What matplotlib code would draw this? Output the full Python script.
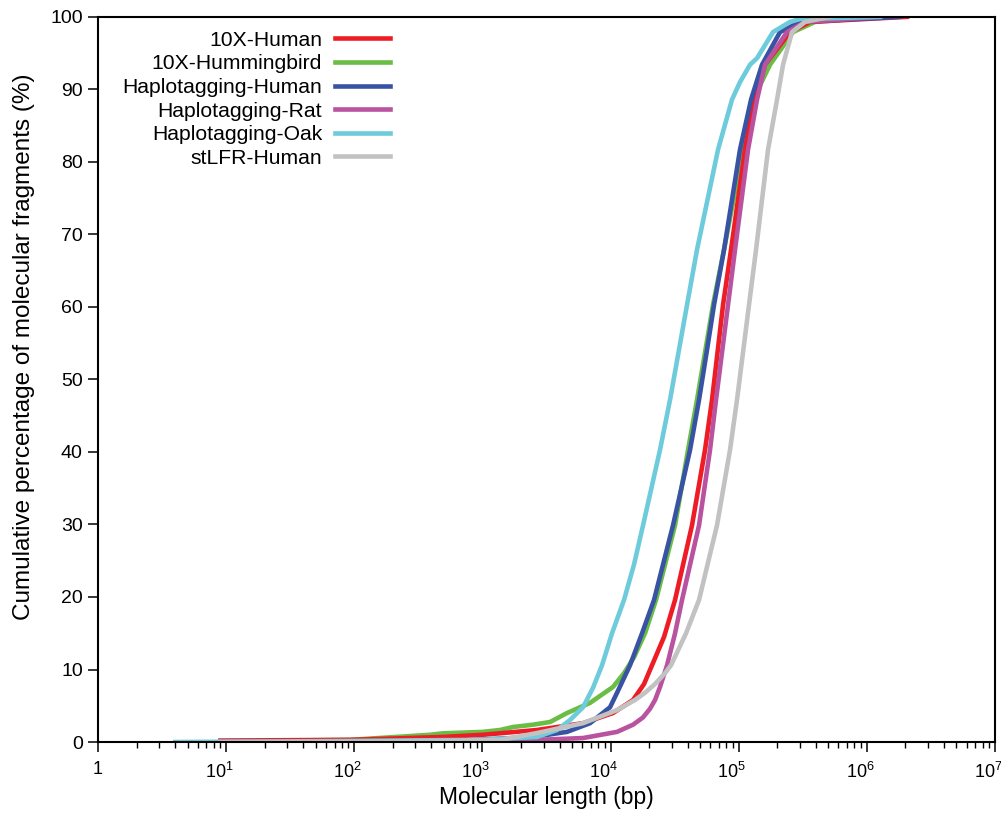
import math
import matplotlib
matplotlib.use("Agg")
import matplotlib.pyplot as plt
from matplotlib.ticker import FixedLocator, FuncFormatter, NullFormatter
from matplotlib.transforms import ScaledTranslation

plt.rcParams["font.family"] = ["Liberation Sans", "DejaVu Sans"]
plt.rcParams["mathtext.fontset"] = "custom"
plt.rcParams["mathtext.rm"] = "Liberation Sans"
plt.rcParams["mathtext.it"] = "Liberation Sans:italic"

# Values (molecule length in bp, cumulative %)
human10x_x = [9, 93, 492, 1010, 2667, 6095, 10450, 14970, 18240, 21060, 26130, 31840,
              43200, 54580, 61900, 75430, 87100, 111900, 131700, 160400, 251400,
              360100, 2058000]
human10x_y = [0.2, 0.3, 0.7, 1.0, 1.66, 2.6, 4.0, 5.8, 8.0, 10.6, 14.5, 19.6,
              29.9, 40.3, 47.2, 60.3, 67.9, 81.7, 88.6, 93.4, 97.9,
              99.3, 100]

hummingbird_x = [9, 93, 390, 492, 1010, 1371, 1732, 2500, 3369, 4571, 6911, 10450,
                 12730, 15240, 18570, 22630, 31840, 40220, 47270, 63020, 76800,
                 108000, 129300, 175500, 265300, 393900, 1266800]
hummingbird_y = [0.1, 0.3, 1.0, 1.2, 1.4, 1.66, 2.07, 2.4, 2.76, 4.0, 5.4, 7.6,
                 9.5, 11.7, 15.0, 19.6, 29.9, 40.3, 47.2, 60.3, 67.9,
                 81.7, 88.6, 93.4, 97.9, 99.3, 100]

haplo_human_x = [9, 558, 2481, 4571, 6911, 9900, 11230, 14180, 17600, 21830, 30710,
                 41690, 49000, 56580, 64170, 76800, 102300, 124800, 152000, 210100,
                 300800, 1814000]
haplo_human_y = [0.05, 0.1, 0.7, 1.4, 2.6, 4.8, 6.8, 10.6, 15.0, 19.6, 29.9,
                 40.3, 47.2, 54.1, 60.3, 67.9, 81.7, 88.6, 93.4, 97.9, 99.3, 100]

haplo_rat_x = [9, 1371, 6095, 11230, 15000, 17920, 20310, 22230, 24310, 27590, 31840,
               36100, 49000, 59700, 66500, 82510, 93560, 118200, 139000, 160400,
               238200, 329300, 1266800]
haplo_rat_y = [0.0, 0.1, 0.55, 1.4, 2.4, 3.4, 4.6, 5.8, 7.6, 10.6, 15.0,
               19.6, 29.9, 40.3, 47.2, 60.3, 67.9, 81.7, 88.6, 93.4,
               97.9, 99.3, 100]

haplo_oak_x = [4, 38, 958, 2667, 3820, 4800, 6095, 7300, 8575, 10260, 12730, 15240,
               17920, 24310, 29100, 39500, 47270, 68960, 88660, 102300, 122500,
               139000, 185200, 251400, 300800, 1266800]
haplo_oak_y = [0.0, 0.1, 0.3, 0.7, 1.66, 3.0, 4.8, 7.5, 10.6, 15.0, 19.6, 24.5,
               29.9, 40.3, 47.2, 60.3, 67.9, 81.7, 88.6, 91.0, 93.4,
               94.3, 97.9, 99.3, 99.7, 100]

stlfr_x = [9, 227, 1371, 2667, 6095, 11230, 15510, 18570, 22230, 26600, 29630, 38800,
           49000, 67700, 85530, 96980, 120300, 136500, 169300, 199100, 221700,
           260600, 329300, 515800]
stlfr_y = [0.0, 0.1, 0.28, 1.24, 2.6, 4.4, 5.8, 6.8, 8.0, 9.5, 10.6, 15.0,
           19.6, 29.9, 40.3, 47.2, 60.3, 67.9, 81.7, 88.6, 93.4,
           97.9, 99.3, 100]

labels = ["10X-Human", "10X-Hummingbird", "Haplotagging-Human",
          "Haplotagging-Rat", "Haplotagging-Oak", "stLFR-Human"]
colors = ["#ee1c25", "#6abd45", "#3953a4", "#b9529f", "#6dcbdc", "#c2c2c2"]
series = [(human10x_x, human10x_y), (hummingbird_x, hummingbird_y),
          (haplo_human_x, haplo_human_y), (haplo_rat_x, haplo_rat_y),
          (haplo_oak_x, haplo_oak_y), (stlfr_x, stlfr_y)]

decades = list(range(0, 8))
y_ticks = list(range(0, 101, 10))

fig = plt.figure(figsize=(10.01, 8.13), dpi=100)
ax = fig.add_axes([0.098, 0.0873, 0.896, 0.892])

# drawing order, back to front
lines = {}
for i in [1, 0, 2, 3, 4, 5]:
    xs, ys = series[i]
    lines[i], = ax.plot(xs, ys, color=colors[i], linewidth=3.3,
                        solid_joinstyle="round", label=labels[i])

ax.set_xscale("log")
ax.set_xlim(1, 1e7)
ax.set_ylim(0, 100)

ax.xaxis.set_major_locator(FixedLocator([10.0 ** d for d in decades]))
ax.xaxis.set_minor_locator(FixedLocator([m * 10.0 ** d for d in decades[:-1]
                                         for m in range(2, 10)]))
ax.xaxis.set_minor_formatter(NullFormatter())
ax.xaxis.set_major_formatter(FuncFormatter(
    lambda v, p: "1" if abs(v - 1) < 1e-9 else r"$\mathregular{10^{%d}}$" % round(math.log10(v))))
ax.yaxis.set_major_locator(FixedLocator(y_ticks))

ax.tick_params(axis="both", which="major", direction="out", length=7, width=1.1,
               labelsize=14, pad=4)
ax.tick_params(axis="x", which="major", labelsize=13, pad=7)
ax.tick_params(axis="x", which="minor", direction="out", length=4, width=1.0)
for sp in ax.spines.values():
    sp.set_linewidth(1.5)

ax.set_xlabel("Molecular length (bp)", fontsize=16.5, labelpad=3)
ax.set_ylabel("Cumulative percentage of molecular fragments (%)", fontsize=17.5)
ax.yaxis.set_label_coords(-0.0705, 0.545)

ax.legend([lines[i] for i in range(6)], labels, loc="upper right",
          bbox_to_anchor=(0.3255, 0.981), frameon=False, markerfirst=False,
          fontsize=15.2, handlelength=2.6, handletextpad=0.62, labelspacing=0.22,
          borderpad=0, borderaxespad=0)

fig.canvas.draw()
shift = ScaledTranslation(-7 / 100, 0, fig.dpi_scale_trans)
for lab in ax.get_xticklabels():
    if lab.get_text().startswith("$"):
        lab.set_transform(lab.get_transform() + shift)

fig.savefig("out.png", dpi=100)
